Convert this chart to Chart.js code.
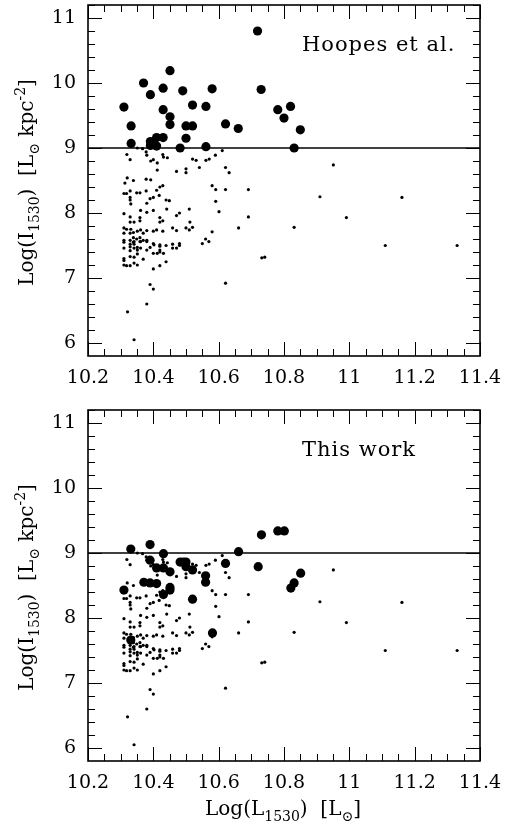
<!DOCTYPE html>
<html>
<head>
<meta charset="utf-8">
<script src="https://cdn.jsdelivr.net/npm/chart.js@4"></script>
<style>
html, body { margin: 0; padding: 0; background: #fff; }
#wrap { position: relative; width: 507px; height: 825px; }
canvas { position: absolute; left: 0; }
</style>
</head>
<body>
<div id="wrap">
  <canvas id="topChart" width="507" height="405" style="top:0"></canvas>
  <canvas id="bottomChart" width="507" height="420" style="top:405px"></canvas>
</div>
<script>
// background sample (same in both panels)
const smallX = [
  10.351, 10.367, 10.319, 10.329, 10.378, 10.380, 10.392, 10.400, 10.412, 10.429,
  10.431, 10.443, 10.471, 10.500, 10.500, 10.520, 10.531, 10.541, 10.561, 10.571,
  10.590, 10.313, 10.320, 10.339, 10.378, 10.392, 10.412, 10.420, 10.429, 10.410,
  10.310, 10.318, 10.329, 10.349, 10.359, 10.329, 10.329, 10.331, 10.378, 10.390,
  10.380, 10.400, 10.418, 10.439, 10.449, 10.310, 10.329, 10.361, 10.359, 10.359,
  10.380, 10.400, 10.420, 10.441, 10.471, 10.480, 10.510, 10.512, 10.329, 10.341,
  10.420, 10.429, 10.310, 10.318, 10.331, 10.310, 10.329, 10.339, 10.351, 10.361,
  10.369, 10.380, 10.400, 10.410, 10.429, 10.459, 10.471, 10.500, 10.510, 10.520,
  10.310, 10.329, 10.339, 10.341, 10.349, 10.359, 10.361, 10.369, 10.380,
  10.611, 10.621, 10.632, 10.580, 10.591, 10.621, 10.691, 10.951, 10.910, 11.161,
  10.591, 10.601, 10.691, 10.991, 10.661, 10.831, 10.580, 10.560, 10.570, 10.550,
  11.110, 11.330, 10.732, 10.741, 10.621,
  10.310, 10.339, 10.359, 10.380, 10.400, 10.420, 10.439, 10.459, 10.480, 10.480,
  10.329, 10.341, 10.329, 10.341, 10.351, 10.351, 10.361, 10.380, 10.390, 10.402,
  10.420, 10.420, 10.471, 10.459, 10.310, 10.329, 10.310, 10.310, 10.329, 10.341,
  10.351, 10.369, 10.400, 10.412, 10.420, 10.431, 10.310, 10.318, 10.329, 10.341,
  10.351, 10.400, 10.420, 10.439, 10.390, 10.400, 10.380, 10.321, 10.341
];
const smallY = [
  9.00, 8.99, 8.90, 8.82, 8.94, 8.89, 8.80, 8.82, 8.77, 8.90,
  8.86, 8.85, 8.64, 8.68, 8.62, 8.83, 8.81, 8.70, 8.81, 8.83,
  8.89, 8.46, 8.54, 8.50, 8.52, 8.51, 8.66, 8.40, 8.42, 8.35,
  8.30, 8.30, 8.34, 8.31, 8.31, 8.24, 8.20, 8.14, 8.34, 8.22,
  8.15, 8.24, 8.27, 8.20, 8.19, 7.99, 7.94, 8.04, 7.93, 7.88,
  8.01, 8.04, 7.93, 8.06, 7.96, 8.00, 8.06, 7.86, 7.86, 7.86,
  7.86, 7.88, 7.77, 7.75, 7.75, 7.69, 7.69, 7.70, 7.72, 7.74,
  7.69, 7.73, 7.72, 7.74, 7.72, 7.77, 7.73, 7.77, 7.74, 7.78,
  7.58, 7.58, 7.62, 7.56, 7.60, 7.62, 7.56, 7.58, 7.58,
  8.96, 8.70, 8.62, 8.42, 8.36, 8.36, 8.36, 8.74, 8.25, 8.24,
  8.18, 8.02, 7.94, 7.93, 7.77, 7.78, 7.71, 7.60, 7.56, 7.53,
  7.50, 7.50, 7.31, 7.32, 6.92,
  7.55, 7.55, 7.56, 7.56, 7.53, 7.51, 7.50, 7.52, 7.53, 7.50,
  7.52, 7.52, 7.48, 7.46, 7.47, 7.43, 7.46, 7.43, 7.47, 7.51,
  7.49, 7.43, 7.46, 7.46, 7.46, 7.42, 7.30, 7.27, 7.33, 7.32,
  7.37, 7.29, 7.38, 7.38, 7.40, 7.38, 7.20, 7.19, 7.19, 7.23,
  7.20, 7.14, 7.19, 7.25, 6.90, 6.83, 6.60, 6.48, 6.05
];

// Hoopes et al. selection (big dots, top panel)
const hoopesX = [
  10.310, 10.332, 10.332, 10.370, 10.391, 10.391, 10.391, 10.410, 10.410, 10.430,
  10.430, 10.430, 10.451, 10.451, 10.451, 10.482, 10.490, 10.500, 10.500, 10.520,
  10.520, 10.561, 10.561, 10.580, 10.621, 10.660, 10.719, 10.730, 10.781, 10.800,
  10.820, 10.850, 10.831
];
const hoopesY = [
  9.63, 9.34, 9.07, 10.00, 9.82, 9.10, 9.04, 9.16, 9.03, 9.92,
  9.59, 9.16, 10.19, 9.48, 9.36, 9.00, 9.88, 9.34, 9.15, 9.66,
  9.34, 9.64, 9.02, 9.91, 9.37, 9.30, 10.80, 9.90, 9.59, 9.46,
  9.64, 9.28, 9.00
];

// this work selection (big dots, bottom panel)
const workX = [
  10.310, 10.331, 10.331, 10.371, 10.390, 10.390, 10.390, 10.410, 10.410, 10.431,
  10.431, 10.431, 10.451, 10.451, 10.451, 10.482, 10.492, 10.500, 10.500, 10.520,
  10.520, 10.560, 10.560, 10.581, 10.621, 10.661, 10.721, 10.731, 10.781, 10.801,
  10.821, 10.831, 10.851
];
const workY = [
  8.43, 9.06, 7.66, 8.55, 9.13, 8.89, 8.54, 8.77, 8.53, 8.99,
  8.77, 8.36, 8.71, 8.47, 8.43, 8.86, 8.86, 8.86, 8.79, 8.74,
  8.29, 8.65, 8.55, 7.77, 8.84, 9.02, 8.79, 9.28, 9.34, 9.34,
  8.46, 8.54, 8.69
];

const cutX = [10.2, 11.4];
const cutY = [9, 9];

const xTicks = [10.2, 10.4, 10.6, 10.8, 11.0, 11.2, 11.4];
const xTickLabels = ['10.2', '10.4', '10.6', '10.8', '11', '11.2', '11.4'];
const yTicks = [6, 7, 8, 9, 10, 11];
const yTickLabels = ['6', '7', '8', '9', '10', '11'];

const FONT = '"DejaVu Serif", serif';

function pts(xs, ys) {
    return xs.map((x, i) => ({ x: x, y: ys[i] }));
}

// text with sub/superscripts, centered on x
function drawRich(ctx, parts, x, y, size) {
    const items = parts.map(p => {
        const fs = p.s ? size * 0.7 : size;
        ctx.font = fs + 'px ' + FONT;
        const w = ctx.measureText(p.t).width;
        const dy = p.s === 'sub' ? size * 0.3 : (p.s === 'sup' ? -size * 0.42 : 0);
        return { t: p.t, fs, w, dy };
    });
    const total = items.reduce((a, b) => a + b.w, 0);
    let cx = x - total / 2;
    ctx.textAlign = 'left';
    ctx.textBaseline = 'alphabetic';
    items.forEach(it => {
        ctx.font = it.fs + 'px ' + FONT;
        ctx.fillText(it.t, cx, y + it.dy);
        cx += it.w;
    });
}

const yTitle = [
    { t: 'Log(I' }, { t: '1530', s: 'sub' }, { t: ')  [L' }, { t: '\u2299', s: 'sub' },
    { t: ' kpc' }, { t: '-2', s: 'sup' }, { t: ']' }
];
const xTitle = [
    { t: 'Log(L' }, { t: '1530', s: 'sub' }, { t: ')  [L' }, { t: '\u2299', s: 'sub' }, { t: ']' }
];

const framePlugin = {
    id: 'frame',
    afterDraw(chart, args, opts) {
        const ctx = chart.ctx;
        const a = chart.chartArea;
        const xs = chart.scales.x, ys = chart.scales.y;
        ctx.save();
        ctx.strokeStyle = '#000';
        ctx.fillStyle = '#000';

        // ticks on all four sides, pointing in
        ctx.lineWidth = 1;
        ctx.beginPath();
        for (let v = 10.2; v <= 11.4 + 1e-6; v += 0.05) {
            const px = Math.round(xs.getPixelForValue(v)) + 0.5;
            const major = Math.abs(v * 5 - Math.round(v * 5)) < 1e-6;
            const len = major ? 14 : 7;
            ctx.moveTo(px, a.bottom); ctx.lineTo(px, a.bottom - len);
            ctx.moveTo(px, a.top); ctx.lineTo(px, a.top + len);
        }
        for (let v = 6; v <= 11.2 + 1e-6; v += 0.2) {
            const py = Math.round(ys.getPixelForValue(v)) + 0.5;
            const major = Math.abs(v - Math.round(v)) < 1e-6;
            const len = major ? 14 : 7;
            ctx.moveTo(a.left, py); ctx.lineTo(a.left + len, py);
            ctx.moveTo(a.right, py); ctx.lineTo(a.right - len, py);
        }
        ctx.stroke();

        ctx.lineWidth = 1.6;
        ctx.strokeRect(a.left, a.top, a.right - a.left, a.bottom - a.top);

        // panel label
        ctx.save();
        ctx.font = '21px ' + FONT;
        ctx.letterSpacing = '1px';
        ctx.textAlign = 'left';
        ctx.textBaseline = 'alphabetic';
        ctx.fillText(opts.label, 302, 51);
        ctx.restore();

        // y title, rotated
        ctx.save();
        ctx.translate(33, (a.top + a.bottom) / 2 + 2);
        ctx.rotate(-Math.PI / 2);
        drawRich(ctx, yTitle, 0, 0, 20);
        ctx.restore();

        if (opts.xTitle) {
            drawRich(ctx, xTitle, (a.left + a.right) / 2 - 1, chart.height - 10, 20);
        }
        ctx.restore();
    }
};

function makeChart(id, bigX, bigY, label, showXTitle) {
    const canvas = document.getElementById(id);
    const H = canvas.height;
    return new Chart(canvas, {
        type: 'scatter',
        data: {
            datasets: [
                {
                    data: pts(smallX, smallY),
                    backgroundColor: '#000', borderWidth: 0, pointRadius: 1.6
                },
                {
                    data: pts(bigX, bigY),
                    backgroundColor: '#000', borderWidth: 0, pointRadius: 4.6
                },
                {
                    type: 'line',
                    data: pts(cutX, cutY),
                    borderColor: '#000', borderWidth: 1.6, pointRadius: 0, fill: false
                }
            ]
        },
        options: {
            responsive: false,
            animation: false,
            devicePixelRatio: 1,
            layout: { padding: { left: 0, right: 27, top: 5, bottom: 0 } },
            plugins: {
                legend: { display: false },
                tooltip: { enabled: false },
                frame: { label: label, xTitle: showXTitle }
            },
            scales: {
                x: {
                    type: 'linear', min: 10.2, max: 11.4,
                    grid: { display: false, drawTicks: false },
                    border: { display: false },
                    afterBuildTicks: s => { s.ticks = xTicks.map(v => ({ value: v })); },
                    afterFit: s => {
                        s.height = H - 356;
                        s.paddingLeft = 0; s.paddingRight = 0;
                        s.paddingTop = 0; s.paddingBottom = 0;
                    },
                    ticks: {
                        autoSkip: false, maxRotation: 0, padding: 11, color: '#000',
                        font: { family: FONT, size: 19 },
                        callback: (v, i) => xTickLabels[i]
                    }
                },
                y: {
                    type: 'linear', min: 5.8, max: 11.2,
                    grid: { display: false, drawTicks: false },
                    border: { display: false },
                    afterBuildTicks: s => { s.ticks = yTicks.map(v => ({ value: v })); },
                    afterFit: s => {
                        s.width = 88;
                        s.paddingLeft = 0; s.paddingRight = 0;
                        s.paddingTop = 0; s.paddingBottom = 0;
                    },
                    ticks: {
                        autoSkip: false, padding: 12, color: '#000',
                        font: { family: FONT, size: 19 },
                        callback: (v, i) => yTickLabels[i]
                    }
                }
            }
        },
        plugins: [framePlugin]
    });
}

makeChart('topChart', hoopesX, hoopesY, 'Hoopes et al.', false);
makeChart('bottomChart', workX, workY, 'This work', true);
</script>
</body>
</html>
